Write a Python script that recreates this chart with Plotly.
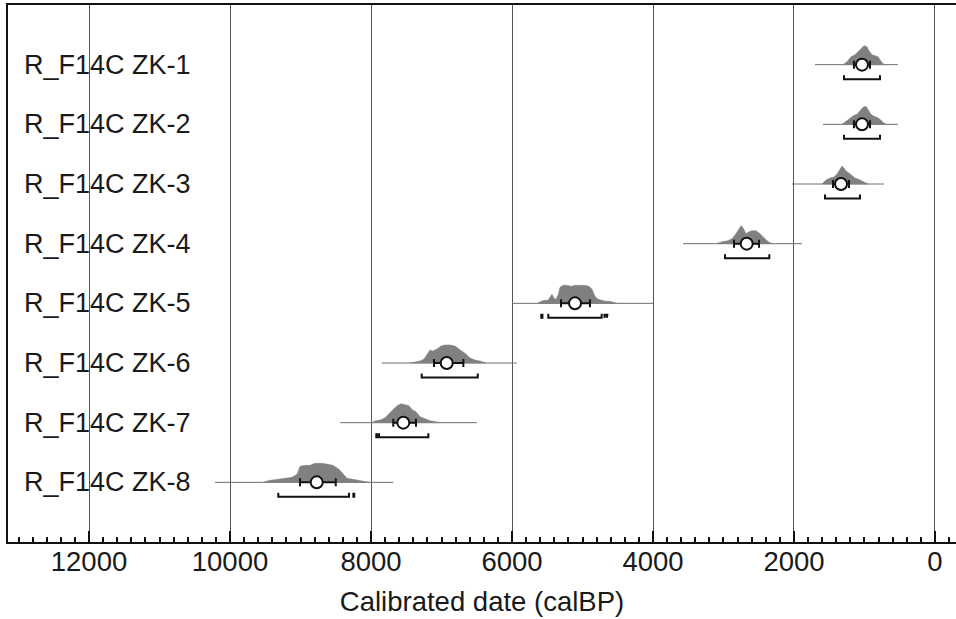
import plotly.graph_objects as go

# ---------------- data ----------------
names = ["R_F14C ZK-1", "R_F14C ZK-2", "R_F14C ZK-3", "R_F14C ZK-4",
         "R_F14C ZK-5", "R_F14C ZK-6", "R_F14C ZK-7", "R_F14C ZK-8"]

means   = [1035, 1035, 1333, 2671, 5106, 6926, 7542, 8770]
sig_old = [1150, 1150, 1447, 2851, 5305, 7106, 7684, 9007]
sig_young = [922, 922, 1220, 2496, 4894, 6690, 7362, 8500]

line_old = [1702, 1589, 2028, 3574, 6000, 7848, 8440, 10213]
line_young = [525, 525, 723, 1887, 4000, 5933, 6501, 7683]

ranges95 = [
    [(1291, 780)],
    [(1291, 780)],
    [(1560, 1064)],
    [(2979, 2350)],
    [(5585, 5568), (5485, 4728), (4688, 4678), (4655, 4645)],
    [(7281, 6486)],
    [(7925, 7910), (7885, 7187)],
    [(9315, 8312), (8250, 8238)],
]

dens_years = [
    [1305, 1248, 1191, 1135, 1092, 1050, 1007, 965, 936, 894, 851, 808, 780, 738, 695],
    [1319, 1262, 1206, 1149, 1106, 1064, 1021, 979, 950, 908, 865, 823, 780, 738, 695],
    [1603, 1546, 1489, 1433, 1390, 1347, 1319, 1291, 1262, 1220, 1177, 1135, 1092, 1035, 979, 950],
    [3106, 3021, 2936, 2879, 2823, 2780, 2752, 2723, 2681, 2638, 2596, 2539, 2482, 2425, 2383, 2340, 2298],
    [5631, 5588, 5532, 5489, 5461, 5433, 5404, 5376, 5348, 5319, 5277, 5220, 5163, 5106, 5035,
     4965, 4908, 4865, 4823, 4780, 4723, 4667, 4610, 4553, 4511],
    [7447, 7376, 7305, 7248, 7206, 7163, 7121, 7064, 7007, 6950, 6879, 6809, 6752, 6709, 6653,
     6596, 6525, 6454, 6369],
    [8000, 7929, 7858, 7801, 7745, 7688, 7631, 7574, 7518, 7461, 7418, 7362, 7305, 7234, 7163, 7078, 7021],
    [9532, 9433, 9319, 9220, 9120, 9050, 9007, 8936, 8865, 8794, 8695, 8610, 8539, 8454, 8397,
     8341, 8255, 8170, 8071, 8028],
]
dens_prob = [
    [0, 3, 8, 10, 13, 16, 19, 18, 14, 10, 9, 8, 5, 1, 0],
    [0, 3, 6, 9, 10, 14, 17, 18, 15, 10, 8, 7, 5, 2, 0],
    [0, 4, 6, 7, 10, 15, 18, 16, 13, 11, 8, 6, 5, 3, 1, 0],
    [0, 2, 3, 5, 10, 15, 18, 16, 10, 12, 13, 13, 10, 6, 3, 1, 0],
    [0, 2, 3, 3, 6, 9, 5, 4, 8, 16, 18, 18, 17, 18, 18, 18, 17, 14, 7, 4, 3, 2, 2, 1, 0],
    [0, 1, 2, 4, 9, 13, 12, 14, 17, 18, 18, 17, 14, 12, 9, 5, 3, 2, 0],
    [0, 2, 3, 5, 9, 13, 17, 19, 18, 17, 13, 11, 6, 4, 2, 1, 0],
    [0, 2, 3, 4, 5, 8, 16, 17, 17, 19, 19, 18, 17, 13, 8, 4, 3, 2, 1, 0],
]

x_ticks = [12000, 10000, 8000, 6000, 4000, 2000, 0]
x_title = "Calibrated date (calBP)"

# ---------------- styling ----------------
FONT = "Liberation Sans, Arial, Helvetica, sans-serif"
ROW_PX = 537 / 9.0            # pixels per row unit
DENS_SCALE = 1.0 / ROW_PX     # one probability unit = one pixel tall
BRACKET_OFF = 14.5 / ROW_PX
BRACKET_TICK = 4.0 / ROW_PX

fig = go.Figure()

for i, name in enumerate(names):
    # thin range line
    fig.add_trace(go.Scatter(
        x=[line_old[i], line_young[i]], y=[i, i], mode="lines",
        line=dict(color="#6e6e6e", width=1), hoverinfo="skip", showlegend=False))
    # posterior density
    xs = dens_years[i]
    ys = [i - p * DENS_SCALE for p in dens_prob[i]]
    fig.add_trace(go.Scatter(
        x=xs + xs[::-1], y=ys + [i] * len(xs), mode="lines", fill="toself",
        fillcolor="#808080", line=dict(color="#808080", width=0.5),
        hoverinfo="skip", showlegend=False))
    # 95% range brackets
    bx, by = [], []
    yb = i + BRACKET_OFF
    for a, b in ranges95[i]:
        bx += [a, a, b, b, None]
        by += [yb - BRACKET_TICK, yb, yb, yb - BRACKET_TICK, None]
    fig.add_trace(go.Scatter(
        x=bx, y=by, mode="lines", line=dict(color="#111111", width=2),
        hoverinfo="skip", showlegend=False))
    # mean with sigma bar
    fig.add_trace(go.Scatter(
        x=[means[i]], y=[i], mode="markers",
        marker=dict(size=12, color="white", line=dict(color="#111111", width=2)),
        error_x=dict(type="data", symmetric=False,
                     array=[sig_old[i] - means[i]],
                     arrayminus=[means[i] - sig_young[i]],
                     color="#111111", thickness=2, width=4),
        hoverinfo="skip", showlegend=False))
    # row label
    fig.add_annotation(
        x=(22 - 8) / 948.0, xref="paper", y=i, yref="y",
        text=name, showarrow=False, xanchor="left", yanchor="middle",
        font=dict(family=FONT, size=27, color="#1a1a1a"))

fig.update_layout(
    width=956, height=619,
    margin=dict(l=8, r=0, t=5, b=77),
    paper_bgcolor="white", plot_bgcolor="white",
    font=dict(family=FONT, color="#1a1a1a"),
    xaxis=dict(
        range=[13149, -298], tickvals=x_ticks,
        ticktext=[str(v) for v in x_ticks],
        tickfont=dict(size=27.5, family=FONT, color="#1a1a1a"),
        ticks="inside", ticklen=11, tickwidth=2, tickcolor="#111111",
        ticklabelstandoff=-6,
        minor=dict(dtick=200, tick0=0, ticks="inside", ticklen=5,
                   tickwidth=1.5, tickcolor="#111111", showgrid=False),
        showgrid=True, gridcolor="#555555", gridwidth=1,
        zeroline=False, showline=True, linecolor="#111111", linewidth=2,
        mirror=True,
        title=dict(text=x_title, font=dict(size=27.5, family=FONT, color="#1a1a1a"),
                   standoff=16),
    ),
    yaxis=dict(
        range=[8.0, -1.0], showticklabels=False, ticks="",
        showgrid=False, zeroline=False,
        showline=True, linecolor="#111111", linewidth=2, mirror=False,
    ),
)

fig.write_html(
    "out.html",
    config={"displayModeBar": False},
    post_script="document.body.style.margin='0';document.body.style.overflow='hidden';",
)
